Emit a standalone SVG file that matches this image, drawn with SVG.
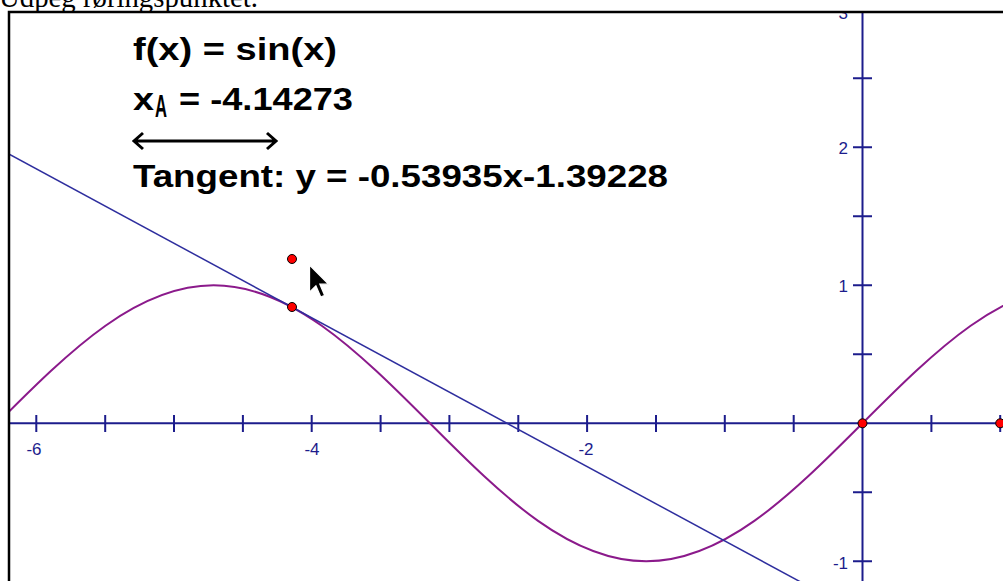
<svg xmlns="http://www.w3.org/2000/svg" width="1003" height="581" viewBox="0 0 1003 581">
<style>
.axis{stroke:#1c1c8c;stroke-width:2;fill:none}
.tick{stroke:#1c1c8c;stroke-width:2}
.lbl{font-family:"Liberation Sans",Arial,sans-serif;font-size:17px;fill:#1c1c8c}
.big{font-family:"Liberation Sans",Arial,sans-serif;font-weight:bold;font-size:31px;fill:#000}
.pt{fill:#ff0000;stroke:#000;stroke-width:1}
</style>
<defs>
<clipPath id="plot"><rect x="10" y="13" width="1000" height="600"/></clipPath>
</defs>
<rect width="1003" height="581" fill="#fff"/>
<text x="-1" y="7" font-family="'Liberation Serif',serif" font-size="29" textLength="259" lengthAdjust="spacingAndGlyphs" fill="#000">Udpeg røringspunktet.</text>
<g id="plot-area" clip-path="url(#plot)">
  <g id="axes">
    <line class="axis" x1="9" y1="423.3" x2="1010" y2="423.3"/>
    <line class="axis" x1="862.5" y1="0" x2="862.5" y2="590"/>
    <path class="tick" d="M36.3 415V432M105.2 415V432M174 415V432M242.9 415V432M311.7 415V432M380.6 415V432M449.4 415V432M518.3 415V432M587.1 415V432M656 415V432M724.8 415V432M793.7 415V432M931.4 415V432M1000.2 415V432"/>
    <path class="tick" d="M853 561.3H872M853 492.3H872M853 354.3H872M853 285.3H872M853 216.3H872M853 147.3H872M853 78.3H872M853 9.3H872"/>
    <text class="lbl" x="34" y="455" text-anchor="middle">-6</text>
    <text class="lbl" x="312" y="455" text-anchor="middle">-4</text>
    <text class="lbl" x="586" y="455" text-anchor="middle">-2</text>
    <text class="lbl" x="848" y="19" text-anchor="end">3</text>
    <text class="lbl" x="848" y="154" text-anchor="end">2</text>
    <text class="lbl" x="848" y="292" text-anchor="end">1</text>
    <text class="lbl" x="848" y="569" text-anchor="end">-1</text>
  </g>
  <g id="curves">
    <path id="sine" fill="none" stroke="#8b1a8b" stroke-width="2" d="M-2.7 423.3C33.35 387.17 69.4 351.27 105.45 325.72C141.5 300.17 177.55 285.3 213.6 285.3C249.65 285.3 285.7 300.17 321.75 325.72C357.8 351.27 393.85 387.17 429.9 423.3C465.95 459.43 502 495.33 538.05 520.88C574.1 546.43 610.15 561.3 646.2 561.3C682.25 561.3 718.3 546.43 754.35 520.88C790.4 495.33 826.45 459.43 862.5 423.3C898.55 387.17 934.6 351.27 970.65 325.72C1006.7 300.17 1042.75 285.3 1078.8 285.3"/>
    <line id="tangent" x1="0" y1="149.25" x2="815.5" y2="590" stroke="#2e2e9e" stroke-width="1.5"/>
  </g>
  <g id="points">
    <circle class="pt" cx="292" cy="259" r="4.5"/>
    <circle class="pt" cx="292" cy="307" r="4.5"/>
    <circle class="pt" cx="862.5" cy="423.3" r="4.5"/>
    <circle class="pt" cx="1000.2" cy="423.3" r="4.5"/>
  </g>
  <g id="labels">
    <text class="big" x="133" y="60" textLength="204" lengthAdjust="spacingAndGlyphs">f(x) = sin(x)</text>
    <text class="big" x="133" y="110" textLength="21" lengthAdjust="spacingAndGlyphs">x</text>
    <text class="big" x="155" y="117" font-size="17" textLength="12" lengthAdjust="spacingAndGlyphs">A</text>
    <text class="big" x="179" y="110" textLength="174" lengthAdjust="spacingAndGlyphs">= -4.14273</text>
    <path d="M134 141H276M143 133L134 141L143 149M267 133L276 141L267 149" fill="none" stroke="#000" stroke-width="3"/>
    <text class="big" x="133" y="187" textLength="535" lengthAdjust="spacingAndGlyphs">Tangent: y = -0.53935x-1.39228</text>
  </g>
  <g id="cursor" transform="translate(309.5 265) scale(1.6)">
    <polygon points="0,0 0,17 4,13 7,20 9.5,19 6.5,12 12,12" fill="#000" stroke="#fff" stroke-width="0.8"/>
  </g>
</g>
<rect x="9" y="12" width="1100" height="700" fill="none" stroke="#000" stroke-width="2.5"/>
</svg>
